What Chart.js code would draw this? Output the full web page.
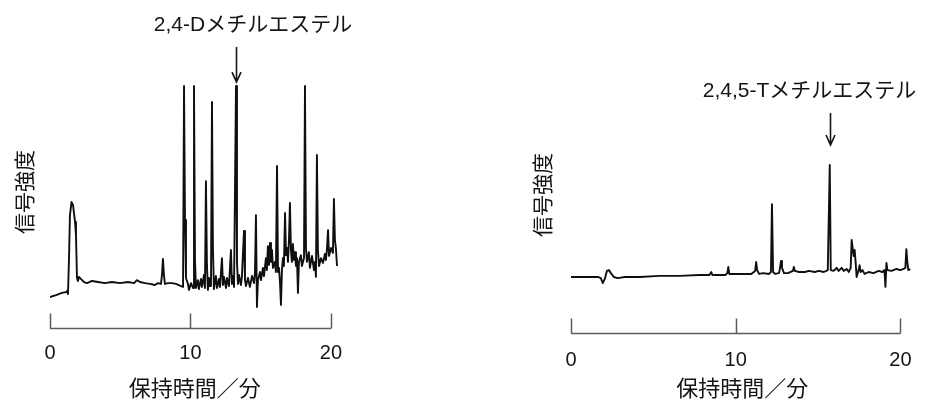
<!DOCTYPE html>
<html lang="ja">
<head>
<meta charset="utf-8">
<title>クロマトグラム</title>
<script src="https://cdn.jsdelivr.net/npm/chart.js@4.4.1/dist/chart.umd.min.js"></script>
<style>
  html, body { margin: 0; padding: 0; background: #fff; }
  #wrap { position: relative; width: 927px; height: 406px; overflow: hidden; }
  canvas { position: absolute; top: 0; }
  #c1 { left: 0; }
  #c2 { left: 463px; }
</style>
</head>
<body>
<div id="wrap">
  <canvas id="c1" width="463" height="406"></canvas>
  <canvas id="c2" width="464" height="406"></canvas>
</div>
<script>
// 2,4-D 試料：保持時間（分）と信号強度（相対値）
const timeD = [
  0, 0.43, 0.85, 1.14, 1.21, 1.28, 1.35, 1.42, 1.53, 1.64, 1.78, 1.85, 1.92, 1.99, 2.06, 2.21,
  2.42, 2.63, 2.99, 3.42, 3.91, 4.41, 4.98, 5.55, 5.98, 6.19, 6.41, 6.76, 7.12, 7.47, 7.69, 7.90,
  7.97, 8.04, 8.11, 8.18, 8.40, 8.68, 8.97, 9.32, 9.47, 9.54, 9.61, 9.68, 9.82, 9.89, 10.04, 10.18,
  10.25, 10.32, 10.39, 10.53, 10.60, 10.75, 10.82, 10.96, 11.03, 11.10, 11.17, 11.24, 11.32, 11.39,
  11.46, 11.53, 11.60, 11.67, 11.81, 11.89, 12.03, 12.10, 12.24, 12.31, 12.38, 12.53, 12.60, 12.74,
  12.88, 12.95, 13.02, 13.10, 13.24, 13.31, 13.38, 13.45, 13.59, 13.66, 13.81, 13.88, 13.95, 14.09,
  14.23, 14.38, 14.52, 14.59, 14.66, 14.73, 14.80, 14.95, 15.02, 15.16, 15.23, 15.37, 15.44, 15.51,
  15.59, 15.66, 15.73, 15.80, 15.87, 16.01, 16.08, 16.16, 16.23, 16.30, 16.37, 16.44, 16.51, 16.58,
  16.65, 16.73, 16.80, 16.87, 16.94, 17.01, 17.08, 17.15, 17.22, 17.29, 17.37, 17.44, 17.51, 17.58,
  17.65, 17.72, 17.86, 17.93, 18.08, 18.15, 18.22, 18.29, 18.43, 18.50, 18.65, 18.79, 18.86, 18.93,
  19.00, 19.07, 19.15, 19.29, 19.43, 19.57, 19.64, 19.71, 19.79, 19.86, 20.00, 20.14, 20.21, 20.28,
  20.35, 20.43
];
const signalD = [
  11.4, 12.1, 12.9, 13.2, 13.6, 12.5, 25.0, 41.5, 46.3, 45.2, 39.0, 34.2, 18.4, 17.3, 18.8, 18.0,
  16.9, 16.5, 17.3, 16.9, 16.5, 16.9, 16.5, 16.9, 16.5, 17.6, 16.9, 16.5, 16.2, 15.8, 16.5, 16.2,
  19.5, 25.4, 19.5, 16.2, 16.5, 16.5, 16.2, 15.4, 15.1, 89.0, 39.7, 18.4, 16.2, 14.0, 16.5, 14.7,
  89.0, 25.0, 14.7, 17.6, 14.3, 18.0, 15.1, 19.5, 14.7, 54.0, 23.2, 14.0, 18.4, 15.4,
  17.6, 83.1, 28.7, 14.3, 19.1, 14.7, 18.0, 15.1, 25.7, 15.8, 18.8, 14.7, 18.4, 15.4,
  28.7, 16.2, 19.1, 15.1, 89.0, 24.3, 16.2, 19.5, 15.8, 18.8, 35.7, 17.6, 15.4, 18.4,
  15.1, 19.1, 16.5, 20.2, 41.5, 7.7, 17.6, 20.6, 17.6, 22.1, 19.1, 25.7, 21.3, 30.1,
  23.2, 31.3, 24.3, 28.7, 22.1, 24.3, 20.6, 59.6, 20.6, 22.1, 16.9, 8.5, 21.3, 25.7,
  22.8, 42.3, 26.8, 29.4, 24.3, 32.4, 46.0, 28.7, 24.3, 30.9, 25.0, 27.9, 22.8, 25.7,
  12.9, 24.3, 26.8, 22.8, 25.7, 89.0, 29.4, 24.3, 27.9, 22.1, 26.5, 21.3, 24.3, 18.8,
  63.6, 28.7, 22.8, 25.7, 23.9, 27.2, 25.0, 28.7, 36.0, 26.5, 29.4, 27.6, 47.4, 32.4,
  29.4, 22.8
];

// 2,4,5-T 試料：保持時間（分）と信号強度（相対値）
const timeT = [
  0, 0.85, 1.63, 1.81, 1.93, 2.05, 2.18, 2.30, 2.42, 2.60, 2.84, 3.26, 4.17, 5.38, 6.59, 7.79,
  8.40, 8.52, 8.58, 9.37, 9.49, 9.55, 9.61, 10.21, 10.94, 11.18, 11.24, 11.30, 11.42, 11.66, 12.02,
  12.14, 12.20, 12.27, 12.39, 12.63, 12.69, 12.75, 12.81, 12.93, 13.17, 13.47, 13.53, 13.59, 13.84,
  14.20, 14.44, 14.80, 15.04, 15.35, 15.59, 15.71, 15.77, 15.95, 16.13, 16.25, 16.43, 16.56, 16.74,
  16.86, 16.98, 17.04, 17.10, 17.16, 17.22, 17.28, 17.34, 17.46, 17.52, 17.58, 17.70, 17.82, 18.07,
  18.37, 18.67, 18.91, 19.03, 19.09, 19.15, 19.21, 19.46, 19.76, 20.00, 20.18, 20.30, 20.36, 20.42,
  20.48, 20.60
];
const signalT = [
  20.3, 20.3, 20.3, 19.9, 18.1, 19.6, 22.5, 22.8, 21.7, 20.3, 19.9, 20.3, 20.3, 20.7, 20.7, 21.0,
  21.0, 22.1, 21.0, 21.0, 21.7, 23.9, 21.4, 21.4, 21.4, 22.5, 25.7, 22.8, 21.4, 21.7, 21.4,
  22.1, 46.7, 22.1, 21.4, 21.7, 23.6, 26.1, 23.6, 21.7, 21.7, 22.5, 23.9, 22.5, 22.1,
  22.1, 22.5, 22.1, 22.5, 22.1, 22.8, 60.9, 22.8, 22.5, 23.6, 22.5, 23.6, 22.5, 23.2,
  22.1, 23.6, 33.7, 30.8, 27.9, 30.1, 25.7, 20.3, 22.8, 24.6, 22.1, 22.8, 21.4, 22.1,
  21.7, 22.5, 22.1, 22.8, 16.7, 25.4, 22.8, 22.5, 23.2, 22.8, 23.2, 23.6, 30.4, 25.7,
  22.8, 23.2
];

const xTicks = [0, 10, 20];
const xTitle = '保持時間／分';
const yTitle = '信号強度';
const labelD = '2,4-Dメチルエステル';
const labelT = '2,4,5-Tメチルエステル';
const peakD = 13.24;
const peakT = 15.71;

const INK = '#141414';
const LATIN = '"Liberation Sans", Arial, "Noto Sans CJK JP", sans-serif';
const CJK = '"Noto Sans CJK JP", sans-serif';

// 時間軸：0〜20 分の目盛り付きの線
const retentionAxis = {
  id: 'retentionAxis',
  afterDatasetsDraw(chart) {
    const { ctx, chartArea, scales: { x } } = chart;
    const y0 = Math.round(chartArea.bottom) + 0.5;
    ctx.save();
    ctx.strokeStyle = '#5c5c5c';
    ctx.lineWidth = 1.5;
    ctx.beginPath();
    ctx.moveTo(x.getPixelForValue(xTicks[0]), y0);
    ctx.lineTo(x.getPixelForValue(xTicks[xTicks.length - 1]), y0);
    xTicks.forEach(v => {
      const px = Math.round(x.getPixelForValue(v)) + 0.5;
      ctx.moveTo(px, y0);
      ctx.lineTo(px, y0 - 15);
    });
    ctx.stroke();
    ctx.restore();
  }
};

// 目的ピークを示す矢印と名称
const peakLabel = {
  id: 'peakLabel',
  afterDatasetsDraw(chart, args, opts) {
    const { ctx, scales: { x, y } } = chart;
    const px = Math.round(x.getPixelForValue(opts.time)) + 0.5;
    const tip = y.getPixelForValue(opts.tip);
    const top = tip - opts.length;
    ctx.save();
    ctx.strokeStyle = INK;
    ctx.lineWidth = 1.6;
    ctx.beginPath();
    ctx.moveTo(px, top);
    ctx.lineTo(px, tip);
    ctx.moveTo(px - 4.5, tip - 10);
    ctx.lineTo(px, tip);
    ctx.lineTo(px + 4.5, tip - 10);
    ctx.stroke();
    ctx.fillStyle = INK;
    ctx.font = '21px ' + LATIN;
    ctx.textAlign = 'center';
    ctx.textBaseline = 'middle';
    ctx.fillText(opts.text, px + opts.dx, top - 22);
    ctx.restore();
  }
};

function makeChart(id, times, signal, geo, label) {
  return new Chart(document.getElementById(id), {
    type: 'line',
    data: {
      datasets: [{
        data: times.map((t, i) => ({ x: t, y: signal[i] })),
        borderColor: '#0f0f0f',
        borderWidth: 1.9,
        borderJoinStyle: 'round',
        pointRadius: 0,
        tension: 0,
        fill: false
      }]
    },
    options: {
      responsive: false,
      animation: false,
      events: [],
      layout: { padding: { left: geo.left, right: geo.right, top: geo.top, bottom: 0 } },
      plugins: {
        legend: { display: false },
        tooltip: { enabled: false },
        peakLabel: label
      },
      scales: {
        x: {
          type: 'linear',
          min: 0,
          max: geo.xMax,
          afterBuildTicks: s => { s.ticks = xTicks.map(v => ({ value: v })); },
          afterFit: s => { s.height = geo.xHeight; },
          grid: { display: false, drawTicks: false },
          border: { display: false },
          ticks: {
            padding: geo.tickPad,
            autoSkip: false,
            maxRotation: 0,
            color: INK,
            font: { family: LATIN, size: 20 }
          },
          title: {
            display: true,
            text: xTitle,
            color: INK,
            font: { family: CJK, size: 22 },
            padding: { top: 0, bottom: 4.8 }
          }
        },
        y: {
          type: 'linear',
          min: 0,
          max: 100,
          afterFit: s => { s.width = geo.yWidth; },
          grid: { display: false, drawTicks: false },
          border: { display: false },
          ticks: { display: false },
          title: {
            display: true,
            text: yTitle,
            color: INK,
            font: { family: CJK, size: 21 },
            padding: { top: geo.yTitlePad, bottom: 0 }
          }
        }
      }
    },
    plugins: [retentionAxis, peakLabel]
  });
}

makeChart('c1', timeD, signalD,
  { left: 4, right: 123.6, top: 56, xMax: 20.6, xHeight: 78, tickPad: 13, yWidth: 46, yTitlePad: 7.4 },
  { time: peakD, tip: 90.4, length: 35, dx: 16.5, text: labelD });

makeChart('c2', timeT, signalT,
  { left: 60, right: 11.8, top: 57, xMax: 20.8, xHeight: 73, tickPad: 15, yWidth: 48, yTitlePad: 6.4 },
  { time: peakT, tip: 68.1, length: 32, dx: -21, text: labelT });
</script>
</body>
</html>
